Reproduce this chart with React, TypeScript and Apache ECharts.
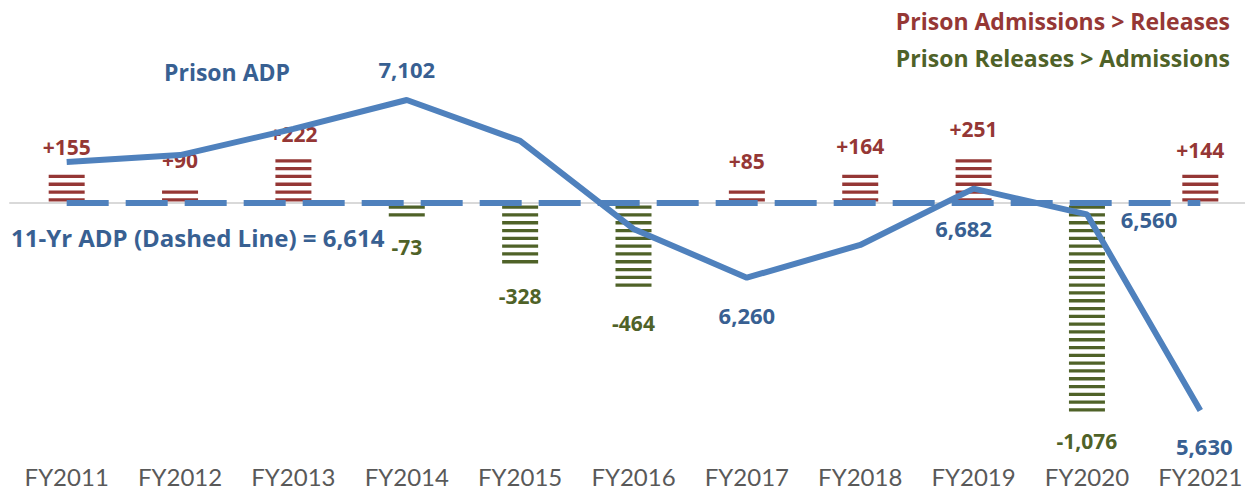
import React, { useEffect, useRef } from "react";
import * as echarts from "echarts";

const categories = ["FY2011", "FY2012", "FY2013", "FY2014", "FY2015", "FY2016", "FY2017", "FY2018", "FY2019", "FY2020", "FY2021"];
const adp = [6808, 6841, 6965, 7102, 6908, 6491, 6260, 6415, 6682, 6560, 5630];
const netChange = [155, 90, 222, -73, -328, -464, 85, 164, 251, -1076, 144];
const avgAdp = 6614;
const legendTexts = ["Prison Admissions > Releases", "Prison Releases > Admissions"];
const lineTitle = "Prison ADP";
const avgTitle = "11-Yr ADP (Dashed Line) = ";

const RED = "#953735";
const GREEN = "#4F6228";
const BLUE = "#4F81BD";
const DARKBLUE = "#386092";
const AXISFONT = "Lato";
const BOLDFONT = "Open Sans";

const fmt = (v: number) => v.toLocaleString("en-US");

export default function App() {
  const ref = useRef<HTMLDivElement>(null);
  useEffect(() => {
    if (!ref.current) return;
    const chart = echarts.init(ref.current, undefined, { renderer: "svg" });
    const labelOffsets: { [k: number]: [number, number] } = {
      3: [0, -31],
      6: [0, 37],
      8: [-10, 39],
      9: [62, 5],
      10: [4, 35],
    };
    const option: any = {
      animation: false,
      grid: { left: 10, right: 0, top: 0, bottom: 52, containLabel: false },
      xAxis: {
        type: "category",
        data: categories,
        boundaryGap: true,
        axisLine: { show: true, lineStyle: { color: "#D9D9D9", width: 2 } },
        axisTick: { show: false },
        axisLabel: { color: "#595959", fontFamily: AXISFONT, fontSize: 24, margin: 26 },
        splitLine: { show: false },
      },
      yAxis: [
        { type: "value", min: 5500, max: 7576, show: false, splitLine: { show: false } },
        { type: "value", min: -1213, max: 1043, show: false, splitLine: { show: false } },
      ],
      graphic: [
        {
          type: "text", x: 1230, y: 21, z: 10,
          style: { text: legendTexts[0], fill: RED, font: `bold 23px '${BOLDFONT}'`, align: "right", verticalAlign: "middle" },
        },
        {
          type: "text", x: 1230, y: 58, z: 10,
          style: { text: legendTexts[1], fill: GREEN, font: `bold 23px '${BOLDFONT}'`, align: "right", verticalAlign: "middle" },
        },
        {
          type: "text", x: 227, y: 72, z: 10,
          style: { text: lineTitle, fill: DARKBLUE, font: `bold 23px '${BOLDFONT}'`, align: "center", verticalAlign: "middle" },
        },
        {
          type: "text", x: 11, y: 237, z: 10,
          style: { text: avgTitle + fmt(avgAdp), fill: DARKBLUE, font: `bold 24px '${BOLDFONT}'`, align: "left", verticalAlign: "middle" },
        },
      ],
      series: [
        {
          type: "custom",
          xAxisIndex: 0,
          yAxisIndex: 1,
          z: 2,
          data: netChange.map((v, i) => [i, v]),
          encode: { x: 0, y: 1 },
          renderItem: (params: any, api: any) => {
            const i = api.value(0) as number;
            const v = api.value(1) as number;
            const base = api.coord([i, 0]);
            const end = api.coord([i, v]);
            const w = 36;
            const x = base[0] - w / 2;
            const color = v >= 0 ? RED : GREEN;
            const period = 7.8;
            const thick = 3.3;
            const children: any[] = [];
            if (v >= 0) {
              for (let yb = base[1] - 1; yb - thick >= end[1] - 1; yb -= period) {
                children.push({ type: "rect", shape: { x, y: yb - thick, width: w, height: thick }, style: { fill: color } });
              }
            } else {
              for (let yt = base[1] + 3; yt + thick <= end[1] + 1; yt += period) {
                children.push({ type: "rect", shape: { x, y: yt, width: w, height: thick }, style: { fill: color } });
              }
            }
            children.push({
              type: "text",
              style: {
                text: (v > 0 ? "+" : "") + fmt(v),
                x: base[0],
                y: v >= 0 ? end[1] - 25 : end[1] + 30,
                fill: color,
                font: `bold 21px '${BOLDFONT}'`,
                align: "center",
                verticalAlign: "middle",
              },
            });
            return { type: "group", children };
          },
        },
        {
          type: "line",
          xAxisIndex: 0,
          yAxisIndex: 0,
          z: 3,
          symbol: "circle",
          symbolSize: 1,
          showSymbol: true,
          itemStyle: { color: "rgba(0,0,0,0)" },
          lineStyle: { color: BLUE, width: 6 },
          data: adp.map((v, i) =>
            labelOffsets[i]
              ? {
                  value: v,
                  label: {
                    show: true,
                    position: "inside",
                    offset: labelOffsets[i],
                    formatter: (p: any) => fmt(p.value as number),
                    color: DARKBLUE,
                    fontFamily: BOLDFONT,
                    fontWeight: "bold",
                    fontSize: 22,
                  },
                }
              : v
          ),
          markLine: {
            silent: true,
            symbol: ["none", "none"],
            label: { show: false },
            lineStyle: { color: BLUE, width: 6, type: [42, 17] },
            data: [[{ coord: [0, avgAdp] }, { coord: [categories.length - 1, avgAdp] }]],
          },
        },
      ],
    };
    chart.setOption(option);
    return () => chart.dispose();
  }, []);
  return (
    <div style={{ position: "absolute", left: 0, top: 0, width: 1245, height: 490, overflow: "hidden" }}>
      <div ref={ref} style={{ position: "absolute", left: 0, top: 0, width: 1257, height: 490 }} />
    </div>
  );
}
